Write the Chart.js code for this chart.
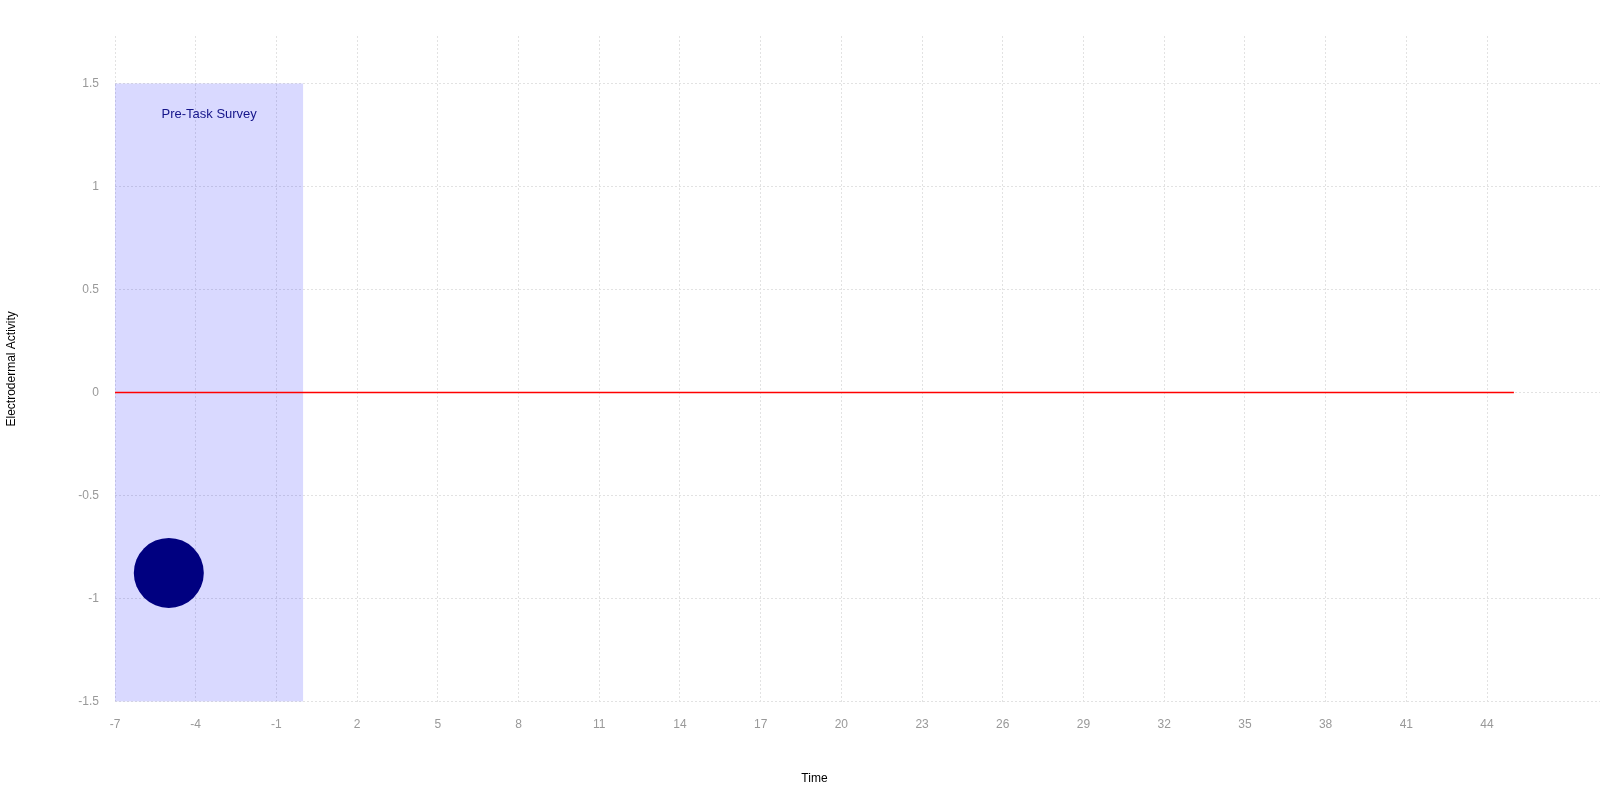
<!DOCTYPE html>
<html>
<head>
<meta charset="utf-8">
<script src="https://cdn.jsdelivr.net/npm/chart.js@4"></script>
<style>
  html, body { margin: 0; padding: 0; background: #fff; }
  canvas { display: block; }
</style>
</head>
<body>
<canvas id="eda_chart" width="1600" height="800"></canvas>
<script>
// axis ranges and ticks
const xRange = [-7, 48.2];
const yRange = [-1.5, 1.73];
const xTicks = [-7, -4, -1, 2, 5, 8, 11, 14, 17, 20, 23, 26, 29, 32, 35, 38, 41, 44];
const yTicks = [-1.5, -1, -0.5, 0, 0.5, 1, 1.5];
const xTitle = 'Time';
const yTitle = 'Electrodermal Activity';

// shaded phase (start, end, top, bottom) and its label
const phaseX = [-7, 0];
const phaseTop = 1.5;
const phaseBottom = -1.5;
const phaseLabel = 'Pre-Task Survey';
const phaseLabelPos = [-3.5, 1.35];

// baseline (red) and the single reading
const baselineX = [-7, 45];
const baselineY = [0, 0];
const readingX = [-5];
const readingY = [-0.875];

const textFont = '"Liberation Sans", Arial, sans-serif';

// phase label + x axis title (title centred under the plotted span, as in the original)
const labelPlugin = {
  id: 'phaseLabel',
  afterDatasetsDraw(chart) {
    const { ctx, chartArea, scales: { x, y } } = chart;
    ctx.save();
    ctx.font = '13px ' + textFont;
    ctx.fillStyle = '#14148a';
    ctx.textAlign = 'center';
    ctx.textBaseline = 'middle';
    ctx.fillText(phaseLabel, x.getPixelForValue(phaseLabelPos[0]), y.getPixelForValue(phaseLabelPos[1]));

    ctx.font = '12px ' + textFont;
    ctx.fillStyle = '#000';
    const mid = (chartArea.left + x.getPixelForValue(baselineX[baselineX.length - 1])) / 2;
    ctx.fillText(xTitle, mid, chart.height - 21);
    ctx.restore();
  },
};

const tickFont = { family: textFont, size: 12 };

new Chart(document.getElementById('eda_chart').getContext('2d'), {
  type: 'line',
  data: {
    datasets: [
      {
        label: 'phase',
        data: phaseX.map((x) => ({ x, y: phaseTop })),
        borderWidth: 0,
        pointRadius: 0,
        fill: { value: phaseBottom },
        backgroundColor: 'rgba(0, 0, 255, 0.15)',
        order: 3,
      },
      {
        label: 'baseline',
        data: baselineX.map((x, i) => ({ x, y: baselineY[i] })),
        borderColor: 'rgb(255, 0, 0)',
        borderWidth: 1.5,
        pointRadius: 0,
        fill: false,
        order: 2,
      },
      {
        label: 'reading',
        type: 'scatter',
        data: readingX.map((x, i) => ({ x, y: readingY[i] })),
        backgroundColor: '#000080',
        borderWidth: 0,
        pointRadius: 35,
        order: 1,
      },
    ],
  },
  options: {
    responsive: false,
    animation: false,
    devicePixelRatio: 1,
    layout: { autoPadding: false, padding: { top: 36, right: 0, left: 0, bottom: 0 } },
    plugins: { legend: { display: false }, tooltip: { enabled: false } },
    scales: {
      x: {
        type: 'linear',
        min: xRange[0],
        max: xRange[1],
        afterBuildTicks: (scale) => { scale.ticks = xTicks.map((value) => ({ value })); },
        afterFit: (scale) => {
          scale.height = 98.3;
          scale.paddingLeft = 0;
          scale.paddingRight = 0;
        },
        grid: { color: '#e2e2e2', lineWidth: 1, drawTicks: false },
        border: { display: false, dash: [2, 2] },
        ticks: { color: '#999', font: tickFont, padding: 16, maxRotation: 0 },
      },
      y: {
        type: 'linear',
        min: yRange[0],
        max: yRange[1],
        afterBuildTicks: (scale) => { scale.ticks = yTicks.map((value) => ({ value })); },
        afterFit: (scale) => {
          scale.width = 115;
          scale.paddingTop = 0;
          scale.paddingBottom = 0;
        },
        grid: { color: '#e2e2e2', lineWidth: 1, drawTicks: false },
        border: { display: false, dash: [2, 2] },
        ticks: { color: '#999', font: tickFont, padding: 16, callback: (v) => String(v) },
        title: { display: true, text: yTitle, color: '#000', font: tickFont, padding: { top: 4, bottom: 0 } },
      },
    },
  },
  plugins: [labelPlugin],
});
</script>
</body>
</html>
